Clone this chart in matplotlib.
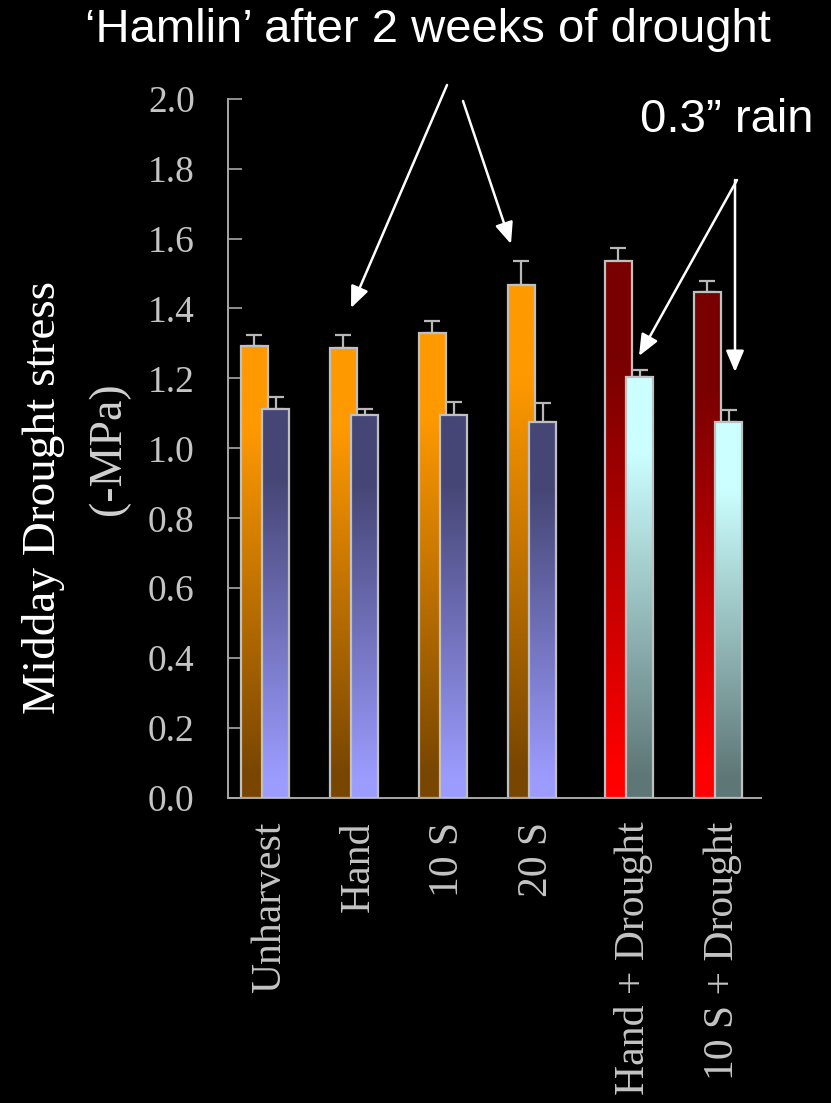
import numpy as np
import matplotlib
matplotlib.use("Agg")
import matplotlib.pyplot as plt
from matplotlib.colors import LinearSegmentedColormap
from matplotlib.patches import FancyArrowPatch

# data
categories = ['Unharvest', 'Hand', '10 S', '20 S', 'Hand + Drought', '10 S + Drought']
first_vals = [1.293, 1.288, 1.331, 1.466, 1.535, 1.447]
first_err = [0.032, 0.037, 0.033, 0.069, 0.039, 0.031]
second_vals = [1.113, 1.094, 1.094, 1.075, 1.205, 1.076]
second_err = [0.033, 0.019, 0.039, 0.056, 0.018, 0.033]
drought = [False, False, False, False, True, True]
y_ticks = [0.0, 0.2, 0.4, 0.6, 0.8, 1.0, 1.2, 1.4, 1.6, 1.8, 2.0]

# gradient colours (top, bottom)
grad_orange = ('#ff9900', '#784600')
grad_red = ('#780000', '#ff0000')
grad_blue = ('#464676', '#9c9cff')
grad_cyan = ('#ccffff', '#5e7676')

W, H = 831, 1103
fig = plt.figure(figsize=(W / 100, H / 100), dpi=100, facecolor='black')
ax = fig.add_axes([228 / W, 1 - 798 / H, (761 - 228) / W, (798 - 98.7) / H])
ax.set_facecolor('black')

group_x = np.arange(len(categories), dtype=float)
group_x[np.array(drought)] += 0.09
bw = 0.30
off = 0.12
edge = '#c0c0c0'


def gradient_bar(x, h, colors, z):
    bar = ax.bar(x, h, width=bw, facecolor='none', edgecolor=edge, linewidth=1.6, zorder=z + 0.1)[0]
    cmap = LinearSegmentedColormap.from_list(
        'g', [(0, colors[1]), (0.05, colors[1]), (0.82, colors[0]), (1, colors[0])])
    grad = np.linspace(1, 0, 256).reshape(-1, 1)
    im = ax.imshow(grad, cmap=cmap, vmin=0, vmax=1, aspect='auto', origin='upper',
                   extent=[x - bw / 2, x + bw / 2, 0, h], zorder=z, interpolation='bilinear')
    im.set_clip_path(bar)


for i in range(len(categories)):
    c1 = grad_red if drought[i] else grad_orange
    c2 = grad_cyan if drought[i] else grad_blue
    gradient_bar(group_x[i] - off, first_vals[i], c1, 2)
    gradient_bar(group_x[i] + off, second_vals[i], c2, 3)

ax.errorbar(group_x - off, first_vals, yerr=[np.zeros(6), first_err], fmt='none',
            ecolor='#b8b8b8', elinewidth=1.6, capsize=6, capthick=1.6, zorder=1.5)
ax.errorbar(group_x + off, second_vals, yerr=[np.zeros(6), second_err], fmt='none',
            ecolor='#b8b8b8', elinewidth=1.6, capsize=6, capthick=1.6, zorder=2.5)

ax.set_xlim(-0.416, 5.573)
ax.set_ylim(0, 2.0)
ax.set_yticks(y_ticks)
ax.set_yticklabels(['%.1f' % v for v in y_ticks], fontfamily='Liberation Serif',
                   fontsize=27, color='#c4c4c4')
# labels sit a few pixels right of the group centre in the original
ax.set_xticks(group_x + 0.055)
ax.set_xticklabels(categories, rotation=90, fontfamily='Liberation Serif',
                   fontsize=30, color='#c4c4c4')
ax.tick_params(axis='y', direction='in', length=10, width=1.2, color='#a8a8a8', pad=24)
ax.tick_params(axis='x', length=0, pad=17)
for s in ['top', 'right']:
    ax.spines[s].set_visible(False)
for s in ['left', 'bottom']:
    ax.spines[s].set_color('#a8a8a8')
    ax.spines[s].set_linewidth(1.4)


def px(x, y):
    return (x / W, 1 - y / H)


# y label, two lines
fig.text(*px(55, 497), 'Midday Drought stress', rotation=90, rotation_mode='anchor',
         ha='center', va='baseline', fontfamily='Liberation Serif', fontsize=34, color='white')
fig.text(*px(120, 449), '(-MPa)', rotation=90, rotation_mode='anchor',
         ha='center', va='baseline', fontfamily='Liberation Serif', fontsize=33, color='#d0d0d0')

# annotations
fig.text(*px(428, 30), '\u2018Hamlin\u2019 after 2 weeks of drought', ha='center', va='center',
         fontfamily='Liberation Sans', fontsize=34, color='white')
fig.text(*px(640, 120), '0.3\u201d rain', ha='left', va='center',
         fontfamily='Liberation Sans', fontsize=34, color='white')

arrows = [((447, 85), (351, 308)), ((463, 101), (511, 244)),
          ((737, 180), (639, 356)), ((735, 180), (735, 372))]
for (a, b) in arrows:
    fig.add_artist(FancyArrowPatch(px(*a), px(*b), transform=fig.transFigure,
                                   arrowstyle='-|>,head_length=1.3,head_width=0.55',
                                   mutation_scale=10, color='white', lw=1.8,
                                   shrinkA=0, shrinkB=0))

fig.savefig('out.png', dpi=100, facecolor='black')
